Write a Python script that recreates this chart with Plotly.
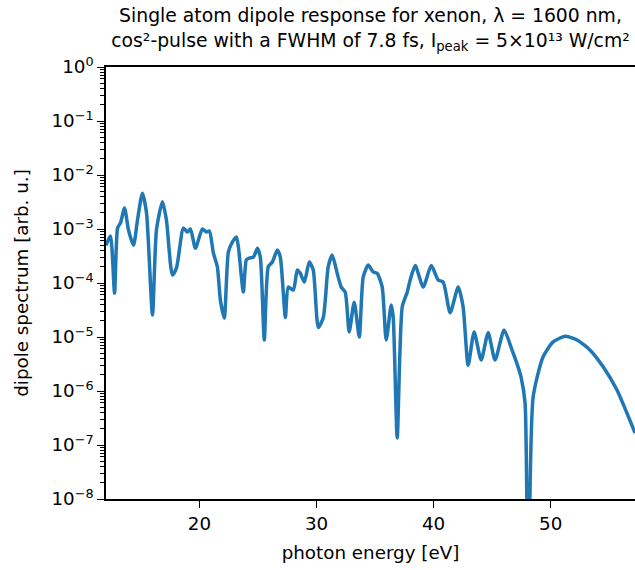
import plotly.graph_objects as go

# photon energy [eV]
energy = [12.02, 12.40, 12.75, 13.01, 13.26, 13.60, 13.94, 14.37, 14.71, 15.13,
          15.48, 15.99, 16.33, 16.84, 17.18, 17.69, 18.04, 18.63, 18.97, 19.23,
          19.66, 20.25, 20.60, 20.85, 21.19, 21.53, 21.79, 22.12, 22.47, 22.81,
          23.15, 23.33, 23.75, 24.01, 24.26, 24.61, 24.95, 25.20, 25.54, 25.88,
          26.23, 26.65, 26.91, 27.34, 27.59, 28.02, 28.36, 28.62, 28.96, 29.38,
          29.72, 30.15, 30.58, 31.00, 31.34, 31.77, 32.11, 32.45, 32.79, 33.22,
          33.65, 33.99, 34.42, 34.84, 35.19, 35.61, 35.95, 36.38, 36.55, 36.89,
          37.32, 37.75, 38.00, 38.43, 39.11, 39.80, 40.39, 40.82, 41.41, 42.10,
          42.52, 42.95, 43.46, 44.06, 44.66, 45.25, 46.02, 46.70, 47.21, 47.47,
          47.81, 48.07, 48.50, 49.35, 50.21, 51.23, 52.26, 53.37, 54.48, 55.66,
          57.20]

# dipole spectrum [arb. u.]
spectrum = [5.0e-4, 7.4e-4, 6.5e-5, 1.04e-3, 1.3e-3, 2.45e-3, 9.6e-4, 5.0e-4, 1.47e-3, 4.6e-3,
            1.98e-3, 2.55e-5, 9.6e-4, 3.2e-3, 1.47e-3, 1.4e-4, 1.9e-4, 1.04e-3, 8.8e-4, 1.0e-3,
            4.4e-4, 1.0e-3, 8.8e-4, 9.2e-4, 3.6e-4, 2.0e-4, 4.8e-5, 2.25e-5, 3.75e-4, 5.7e-4,
            7.1e-4, 4.6e-4, 6.8e-5, 2.7e-4, 2.9e-4, 3.0e-4, 4.4e-4, 3.0e-4, 8.8e-6, 2.0e-4,
            2.45e-4, 4.1e-4, 3.0e-4, 2.3e-5, 8.4e-5, 7.4e-5, 1.74e-4, 1.5e-4, 1.04e-4, 2.45e-4,
            1.74e-4, 1.5e-5, 2.3e-5, 2.0e-4, 3.3e-4, 1.5e-4, 8.4e-5, 6.8e-5, 1.24e-5, 4.4e-5,
            1.0e-5, 1.3e-4, 2.15e-4, 1.6e-4, 1.5e-4, 8.4e-5, 8.8e-6, 3.9e-5, 2.3e-5, 1.35e-7,
            3.6e-5, 6.8e-5, 1.14e-4, 2.1e-4, 8.4e-5, 2.1e-4, 1.14e-4, 1.04e-4, 2.8e-5, 8.4e-5,
            3.6e-5, 3.0e-6, 1.24e-5, 3.75e-6, 1.2e-5, 3.75e-6, 1.35e-5, 5.7e-6, 2.8e-6, 1.8e-6,
            6.0e-7, 1.0e-10, 7.7e-7, 4.3e-6, 8.1e-6, 1.03e-5, 8.8e-6, 5.7e-6, 2.8e-6, 1.04e-6,
            1.67e-7]

decades = [0, -1, -2, -3, -4, -5, -6, -7, -8]
x_ticks = [20, 30, 40, 50]

FONT = "DejaVu Sans"
FS = 18.3

ytick_vals = [10.0 ** d for d in decades]
ytick_text = ["10<sup>%s</sup>" % (str(d).replace("-", "\u2212")) for d in decades]
minor_vals = [m * 10.0 ** d for d in decades[1:] for m in range(2, 10)]

fig = go.Figure()
fig.add_trace(go.Scatter(
    x=energy, y=spectrum, mode="lines",
    line=dict(color="#1f77b4", width=3.5, shape="spline", smoothing=0.6),
    showlegend=False, hoverinfo="skip",
))

fig.update_layout(
    width=635, height=570,
    margin=dict(l=106, r=0, t=67, b=71),
    paper_bgcolor="white", plot_bgcolor="white",
    font=dict(family=FONT, size=FS, color="black"),
    title=dict(
        text="Single atom dipole response for xenon, λ = 1600 nm,<br>"
             "cos²-pulse with a FWHM of 7.8 fs, I<sub>peak</sub> = 5×10¹³ W/cm²",
        x=0.5, xref="paper", xanchor="center",
        y=0.961, yref="container", yanchor="top",
        font=dict(family=FONT, size=18.8, color="black"),
    ),
)

fig.update_xaxes(
    range=[12.02, 57.2],
    tickvals=x_ticks, ticktext=[str(v) for v in x_ticks],
    ticks="outside", ticklen=7, tickwidth=1.3, tickcolor="black",
    showline=True, linecolor="black", linewidth=1.5, mirror=True,
    showgrid=False, zeroline=False,
    title=dict(text="photon energy [eV]", standoff=13, font=dict(family=FONT, size=FS)),
    tickfont=dict(family=FONT, size=FS),
)

fig.update_yaxes(
    type="log", range=[-8, 0],
    tickvals=ytick_vals, ticktext=ytick_text,
    ticks="outside", ticklen=7, tickwidth=1.3, tickcolor="black",
    minor=dict(tickvals=minor_vals, ticks="outside", ticklen=4, tickwidth=1, tickcolor="black"),
    showline=True, linecolor="black", linewidth=1.5,
    showgrid=False, zeroline=False,
    title=dict(text="dipole spectrum [arb. u.]", standoff=18, font=dict(family=FONT, size=FS)),
    tickfont=dict(family=FONT, size=FS),
)

fig.write_html("out.html")
